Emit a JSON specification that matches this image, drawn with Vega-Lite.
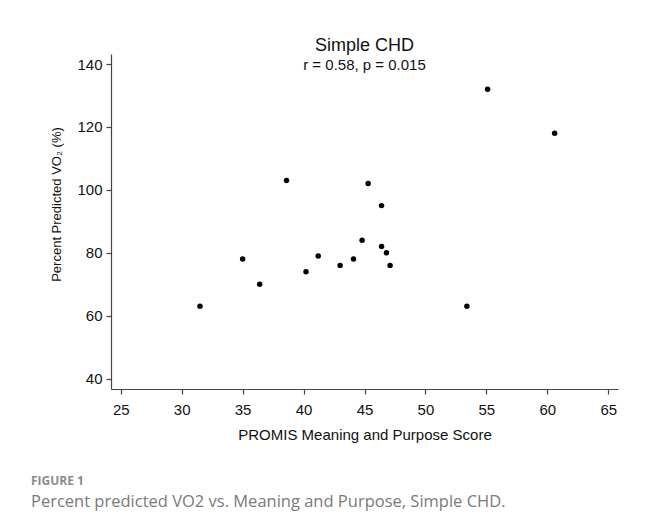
{
  "$schema": "https://vega.github.io/schema/vega-lite/v6.json",
  "background": "white",
  "padding": {"left": 30, "top": 37, "right": 5, "bottom": 5},
  "autosize": {"type": "pad"},
  "title": {
    "text": "FIGURE 1",
    "subtitle": "Percent predicted VO2 vs. Meaning and Purpose, Simple CHD.",
    "orient": "bottom",
    "anchor": "start",
    "frame": "bounds",
    "font": "Open Sans",
    "fontSize": 12,
    "fontWeight": "bold",
    "color": "#8a8a8a",
    "subtitleFont": "Open Sans",
    "subtitleFontSize": 16.5,
    "subtitleColor": "#7a7a7a",
    "subtitlePadding": 6,
    "offset": 34,
    "dx": -20
  },
  "vconcat": [
    {
      "width": 507,
      "height": 335,
      "title": {
        "text": "Simple CHD",
        "subtitle": "r = 0.58, p = 0.015",
        "font": "Liberation Sans",
        "fontSize": 18,
        "fontWeight": "normal",
        "color": "#111",
        "subtitleFont": "Liberation Sans",
        "subtitleFontSize": 15,
        "subtitleColor": "#111",
        "subtitlePadding": 3,
        "anchor": "middle",
        "offset": -19
      },
      "data": {
        "values": [
          {"score": 31.5, "vo2": 63},
          {"score": 35.0, "vo2": 78},
          {"score": 36.4, "vo2": 70},
          {"score": 38.6, "vo2": 103},
          {"score": 40.2, "vo2": 74},
          {"score": 41.2, "vo2": 79},
          {"score": 43.0, "vo2": 76},
          {"score": 44.1, "vo2": 78},
          {"score": 44.8, "vo2": 84},
          {"score": 45.3, "vo2": 102},
          {"score": 46.4, "vo2": 95},
          {"score": 46.4, "vo2": 82},
          {"score": 46.8, "vo2": 80},
          {"score": 47.1, "vo2": 76},
          {"score": 53.4, "vo2": 63},
          {"score": 55.1, "vo2": 132},
          {"score": 60.6, "vo2": 118}
        ]
      },
      "mark": {"type": "circle", "size": 30, "color": "black", "opacity": 1},
      "encoding": {
        "x": {
          "field": "score",
          "type": "quantitative",
          "scale": {"domain": [24.2, 65.8], "nice": false, "zero": false},
          "axis": {
            "title": "PROMIS Meaning and Purpose Score",
            "values": [25, 30, 35, 40, 45, 50, 55, 60, 65],
            "titleFontSize": 15,
            "titlePadding": 10
          }
        },
        "y": {
          "field": "vo2",
          "type": "quantitative",
          "scale": {"domain": [36.7, 143.2], "nice": false, "zero": false},
          "axis": {
            "title": "Percent Predicted VO₂ (%)",
            "values": [40, 60, 80, 100, 120, 140],
            "titleFontSize": 13,
            "titlePadding": 13,
            "titleY": 150
          }
        }
      }
    }
  ],
  "config": {
    "view": {"stroke": null},
    "axis": {
      "grid": false,
      "domainColor": "#444",
      "domainWidth": 1.2,
      "tickColor": "#444",
      "tickWidth": 1.2,
      "tickSize": 5,
      "labelFont": "Liberation Sans",
      "labelFontSize": 15,
      "labelColor": "#111",
      "titleFont": "Liberation Sans",
      "titleFontWeight": "normal",
      "titleColor": "#111"
    },
    "axisX": {"labelPadding": 8, "labelFont": "Liberation Sans", "labelFontSize": 15},
    "axisY": {"labelPadding": 4, "labelFont": "Liberation Sans", "labelFontSize": 15}
  }
}
